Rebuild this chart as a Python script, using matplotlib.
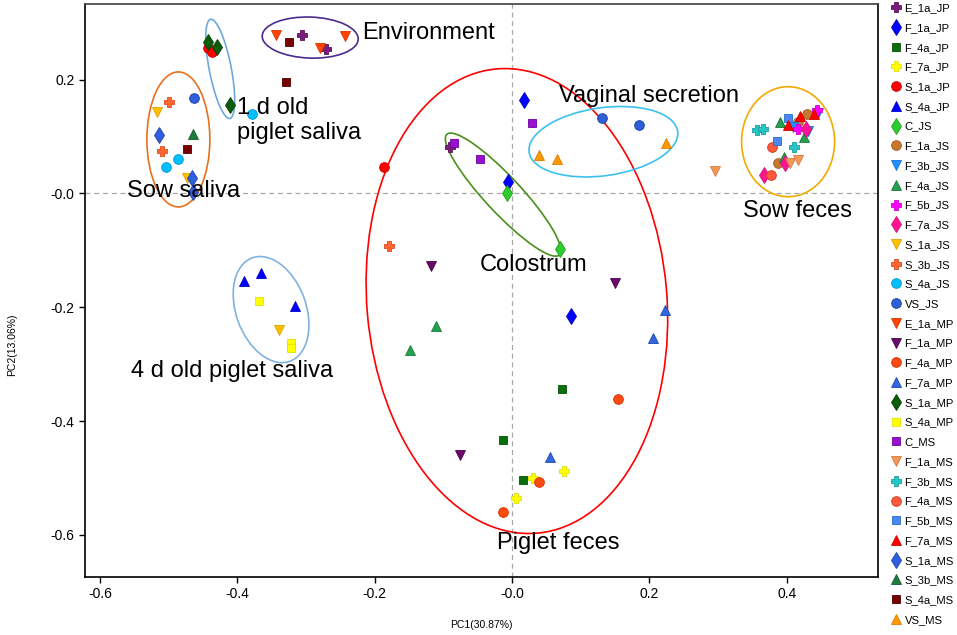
import matplotlib
matplotlib.use("Agg")
import matplotlib.pyplot as plt
from matplotlib.patches import Ellipse
from matplotlib.lines import Line2D
import matplotlib.transforms as mtransforms

plt.rcParams['font.family'] = ['Liberation Sans', 'DejaVu Sans']

# ---------------- data ----------------
labels = ["E_1a_JP", "F_1a_JP", "F_4a_JP", "F_7a_JP", "S_1a_JP", "S_4a_JP", "C_JS",
          "F_1a_JS", "F_3b_JS", "F_4a_JS", "F_5b_JS", "F_7a_JS", "S_1a_JS", "S_3b_JS",
          "S_4a_JS", "VS_JS", "E_1a_MP", "F_1a_MP", "F_4a_MP", "F_7a_MP", "S_1a_MP",
          "S_4a_MP", "C_MS", "F_1a_MS", "F_3b_MS", "F_4a_MS", "F_5b_MS", "F_7a_MS",
          "S_1a_MS", "S_3b_MS", "S_4a_MS", "VS_MS"]

colors = ["#7B1E7A", "#0000FF", "#0A6E0A", "#FFFF00", "#FF0000", "#0000FF", "#2ECC2E",
          "#C8782E", "#1E90FF", "#24A050", "#FF00FF", "#FF1493", "#FFC000", "#FF6633",
          "#00BFFF", "#2E5FD8", "#FF4500", "#6A0A6A", "#FF4A10", "#3366E0", "#0A5E0A",
          "#FFFF00", "#9A10D0", "#F5985A", "#26C6C6", "#FF5A3C", "#4A8AF0", "#FF0000",
          "#3060E0", "#1E7A3E", "#7A0000", "#FF9900"]

edges = ["#5A105A", "#0000C0", "#064E06", "#E0E000", "#D00000", "#0000C0", "#1E9E1E",
         "#A05A1E", "#1070D0", "#187A3A", "#D000D0", "#D01077", "#E0A000", "#E04A1A",
         "#009AD0", "#1A3FA0", "#E03000", "#4A004A", "#D03000", "#1A4AB0", "#043E04",
         "#E0E000", "#7000A0", "#D07A40", "#1A9E9E", "#D03A20", "#2A6AD0", "#D00000",
         "#1A40B0", "#105A2A", "#500000", "#E07A00"]

markers = ["P", "d", "s", "P", "o", "^", "d",
           "o", "v", "^", "P", "d", "v", "P",
           "o", "o", "v", "v", "o", "^", "d",
           "s", "s", "v", "P", "o", "s", "^",
           "d", "^", "s", "^"]

pc1 = [[-0.306, -0.271, -0.090], [0.017, -0.006, 0.086], [0.073, -0.013, 0.016],
       [0.076, 0.031, 0.006], [-0.443, -0.437, -0.186], [-0.390, -0.366, -0.316],
       [-0.007, 0.070], [0.416, 0.430, 0.387], [0.409, 0.431, 0.446],
       [-0.111, -0.149, 0.390, 0.396, 0.425], [0.416, 0.444], [0.428, 0.398, 0.367],
       [-0.517, -0.473, -0.339], [-0.499, -0.510, -0.179], [-0.486, -0.504, -0.379],
       [-0.463, 0.131, 0.185], [-0.344, -0.280, -0.243], [-0.118, 0.150, -0.076],
       [0.154, 0.039, -0.013], [0.055, 0.223, 0.205], [-0.443, -0.430, -0.411],
       [-0.368, -0.322, -0.322], [0.029, -0.084, -0.047], [0.296, 0.405, 0.416],
       [0.357, 0.366, 0.411], [0.379, 0.377], [0.402, 0.386], [0.419, 0.440, 0.402],
       [-0.514, -0.466, -0.465], [-0.465], [-0.325, -0.329, -0.473], [0.039, 0.066, 0.224]]

pc2 = [[0.279, 0.254, 0.082], [0.165, 0.021, -0.216], [-0.344, -0.433, -0.504],
       [-0.488, -0.500, -0.535], [0.256, 0.249, 0.046], [-0.153, -0.140, -0.198],
       [0.000, -0.098], [0.125, 0.139, 0.054], [0.116, 0.109, 0.142],
       [-0.233, -0.275, 0.126, 0.065, 0.100], [0.114, 0.147], [0.114, 0.053, 0.033],
       [0.144, 0.028, -0.240], [0.160, 0.074, -0.093], [0.060, 0.047, 0.140],
       [0.167, 0.133, 0.121], [0.279, 0.256, 0.277], [-0.128, -0.158, -0.460],
       [-0.361, -0.507, -0.560], [-0.463, -0.205, -0.254], [0.267, 0.258, 0.156],
       [-0.189, -0.263, -0.272], [0.123, 0.089, 0.060], [0.039, 0.053, 0.058],
       [0.111, 0.114, 0.081], [0.081, 0.032], [0.132, 0.093], [0.137, 0.139, 0.121],
       [0.102, 0.028, 0.002], [0.105], [0.267, 0.196, 0.079], [0.068, 0.061, 0.088]]

# group ellipses: centre (data), width/height (inches), angle, colour
ell_names = ["Environment", "1 d old piglet saliva", "Sow saliva", "4 d old piglet saliva",
             "Piglet feces", "Colostrum", "Vaginal secretion", "Sow feces"]
ell_cx = [-0.294, -0.425, -0.486, -0.351, 0.007, -0.013, 0.133, 0.402]
ell_cy = [0.274, 0.219, 0.095, -0.204, -0.189, -0.002, 0.091, 0.091]
ell_w = [0.96, 1.01, 0.63, 1.10, 4.66, 1.65, 1.50, 0.93]
ell_h = [0.41, 0.22, 1.35, 0.70, 3.00, 0.36, 0.68, 1.10]
ell_ang = [-2, 101, 0, 110, 95, 133, 8, 0]
ell_col = ["#4B2C8C", "#6FA8DC", "#E8711C", "#80B3E0", "#FF0000", "#4A8F1A", "#3CC0EE", "#F2AA00"]

# group text labels (data position of left/centre anchor)
txt = ["Environment", "1 d old\npiglet saliva", "Sow saliva", "4 d old piglet saliva",
       "Colostrum", "Vaginal secretion", "Sow feces", "Piglet feces"]
txt_x = [-0.218, -0.401, -0.561, -0.555, -0.047, 0.068, 0.336, -0.022]
txt_y = [0.282, 0.128, 0.004, -0.312, -0.126, 0.172, -0.030, -0.615]

xticks = [-0.6, -0.4, -0.2, 0.0, 0.2, 0.4]
xticklabels = ["-0.6", "-0.4", "-0.2", "-0.0", "0.2", "0.4"]
yticks = [0.2, 0.0, -0.2, -0.4, -0.6]
yticklabels = ["0.2", "-0.0", "-0.2", "-0.4", "-0.6"]

msize = {"s": 6.0, "o": 7.0, "^": 7.5, "v": 7.5, "d": 8.0, "P": 7.5}

# ---------------- figure ----------------
fig = plt.figure(figsize=(9.57, 6.35), dpi=100)
ax = fig.add_axes([0.0888, 0.0913, 0.8287, 0.9024])
ax.set_xlim(-0.622, 0.533)
ax.set_ylim(-0.674, 0.333)

ax.axvline(0, color="#A8A8A8", lw=0.9, ls=(0, (4, 3)), zorder=1)
ax.axhline(0, color="#A8A8A8", lw=0.9, ls=(0, (4, 3)), zorder=1)

handles = []
for i, lab in enumerate(labels):
    ms = msize[markers[i]]
    ax.plot(pc1[i], pc2[i], ls="none", marker=markers[i], color=colors[i],
            mec=edges[i], mew=0.6, ms=ms, zorder=3)
    handles.append(Line2D([], [], ls="none", marker=markers[i], color=colors[i],
                          mec=edges[i], mew=0.6, ms=ms, label=lab))

for i in range(len(ell_names)):
    tr = fig.dpi_scale_trans + mtransforms.ScaledTranslation(ell_cx[i], ell_cy[i], ax.transData)
    e = Ellipse((0, 0), ell_w[i], ell_h[i], angle=ell_ang[i], transform=tr,
                fill=False, edgecolor=ell_col[i], lw=1.2, zorder=2)
    ax.add_patch(e)

for i, t in enumerate(txt):
    ax.text(txt_x[i], txt_y[i], t, fontsize=17, ha="left", va="center",
            linespacing=1.15, zorder=4)

ax.set_xticks(xticks)
ax.set_xticklabels(xticklabels)
ax.set_yticks(yticks)
ax.set_yticklabels(yticklabels)
ax.tick_params(direction="out", length=4, width=1, labelsize=10, colors="black")
for s in ax.spines.values():
    s.set_linewidth(1.2)
ax.spines["top"].set_color("#404040")

fig.text(0.503, 0.016, "PC1(30.87%)", fontsize=7.5, ha="center", va="center")
fig.text(0.013, 0.457, "PC2(13.06%)", fontsize=7.5, ha="center", va="center", rotation=90)

fig.legend(handles=handles, loc="upper left", bbox_to_anchor=(0.931, 0.995),
           frameon=False, fontsize=8.1, handlelength=0.9, handletextpad=0.3,
           labelspacing=0.865, borderaxespad=0, borderpad=0)

fig.savefig("out.png", dpi=100)
